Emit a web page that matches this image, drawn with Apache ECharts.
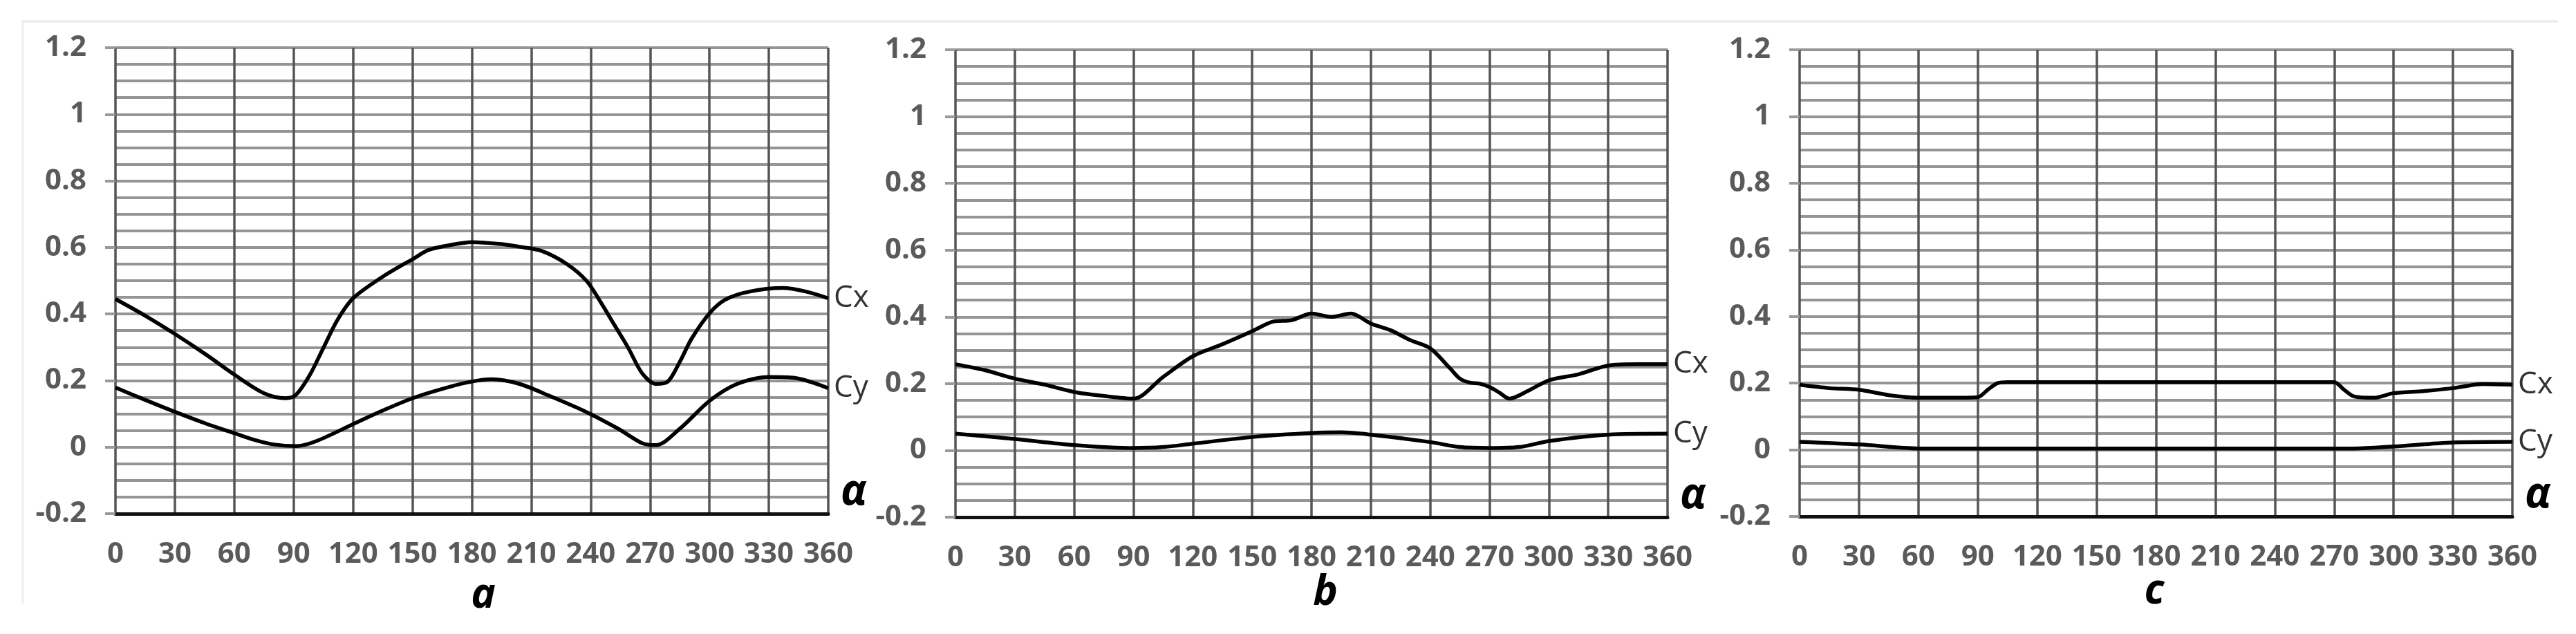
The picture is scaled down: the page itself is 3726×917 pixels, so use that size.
<!DOCTYPE html>
<html>
<head>
<meta charset="utf-8">
<script src="https://cdn.jsdelivr.net/npm/echarts@6/dist/echarts.min.js"></script>
<style>
  html, body { margin: 0; padding: 0; background: #fff; }
  #chart { width: 3726px; height: 917px; }
</style>
</head>
<body>
<div id="chart"></div>
<script>
// ---------------- data ----------------
const xTicks = [0, 30, 60, 90, 120, 150, 180, 210, 240, 270, 300, 330, 360];
const yTicks = [-0.2, 0, 0.2, 0.4, 0.6, 0.8, 1, 1.2];
const panelLetters = ['a', 'b', 'c'];
const seriesNames = ['Cx', 'Cy'];

// panel a
const aCxAngles = [0, 15, 30, 46, 60, 75, 86, 91, 98, 105, 112, 120, 135, 151, 158, 169, 180, 195, 204, 215, 228, 238, 245, 252, 259, 266, 273, 279, 285, 291, 300, 308, 320, 337, 349, 360];
const aCx       = [0.445, 0.395, 0.34, 0.277, 0.218, 0.162, 0.147, 0.156, 0.215, 0.298, 0.381, 0.447, 0.512, 0.568, 0.592, 0.607, 0.616, 0.61, 0.602, 0.59, 0.55, 0.499, 0.436, 0.367, 0.298, 0.222, 0.19, 0.197, 0.256, 0.326, 0.402, 0.443, 0.467, 0.478, 0.467, 0.447];
const aCyAngles = [0, 15, 30, 46, 60, 70, 80, 91, 101, 120, 135, 151, 168, 180, 190, 204, 220, 238, 254, 266, 273, 285, 300, 314, 330, 343, 360];
const aCy       = [0.179, 0.142, 0.106, 0.07, 0.042, 0.022, 0.008, 0.003, 0.017, 0.069, 0.11, 0.149, 0.18, 0.197, 0.204, 0.19, 0.152, 0.105, 0.055, 0.012, 0.006, 0.055, 0.139, 0.19, 0.211, 0.208, 0.177];

// panel b
const bCxAngles = [0, 15, 30, 45, 60, 75, 90, 105, 120, 135, 150, 160, 170, 180, 190, 200, 210, 220, 230, 240, 250, 255, 260, 265, 270, 275, 280, 290, 300, 315, 330, 345, 360];
const bCx       = [0.258, 0.24, 0.215, 0.197, 0.175, 0.163, 0.155, 0.22, 0.282, 0.318, 0.357, 0.385, 0.39, 0.41, 0.40, 0.41, 0.38, 0.36, 0.33, 0.306, 0.246, 0.215, 0.203, 0.20, 0.19, 0.173, 0.155, 0.18, 0.21, 0.228, 0.254, 0.258, 0.258];
const bCyAngles = [0, 30, 60, 90, 105, 120, 150, 180, 195, 210, 240, 255, 270, 285, 300, 330, 360];
const bCy       = [0.05, 0.034, 0.016, 0.007, 0.01, 0.02, 0.04, 0.052, 0.054, 0.047, 0.025, 0.01, 0.007, 0.01, 0.028, 0.047, 0.05];

// panel c
const cCxAngles = [0, 15, 30, 45, 60, 75, 90, 95, 100, 105, 150, 200, 250, 270, 275, 280, 290, 300, 315, 330, 345, 360];
const cCx       = [0.195, 0.185, 0.18, 0.164, 0.156, 0.156, 0.158, 0.18, 0.2, 0.203, 0.203, 0.203, 0.203, 0.203, 0.18, 0.16, 0.156, 0.17, 0.176, 0.185, 0.197, 0.195];
const cCyAngles = [0, 30, 60, 90, 150, 210, 280, 300, 330, 360];
const cCy       = [0.024, 0.016, 0.004, 0.004, 0.004, 0.004, 0.004, 0.01, 0.022, 0.024];

// ---------------- helpers ----------------
function pairs(xs, ys) { return xs.map((x, i) => [x, ys[i]]); }

const panels = [
  { cx: pairs(aCxAngles, aCx), cy: pairs(aCyAngles, aCy) },
  { cx: pairs(bCxAngles, bCx), cy: pairs(bCyAngles, bCy) },
  { cx: pairs(cCxAngles, cCx), cy: pairs(cCyAngles, cCy) }
];

const grids = [
  { left: 167,  top: 69, width: 1031, height: 674 },
  { left: 1382, top: 72, width: 1030, height: 676 },
  { left: 2603, top: 72, width: 1031, height: 675 }
];
const letterPos = [[699, 862], [1917, 858], [3116, 856]];

const labelFont = 'Open Sans';
const labelColor = '#5a5a5a';

const xAxes = grids.map((g, i) => ({
  type: 'value', gridIndex: i,
  min: xTicks[0], max: xTicks[xTicks.length - 1], interval: 30,
  name: 'α', nameLocation: 'end', nameGap: 18,
  nameTextStyle: {
    fontFamily: labelFont, fontSize: 62, fontStyle: 'italic', fontWeight: 'bold',
    color: '#000', verticalAlign: 'bottom', align: 'left'
  },
  axisLine: { show: true, onZero: false, lineStyle: { color: '#111', width: 5 } },
  axisTick: { show: false },
  axisLabel: { margin: 38, fontFamily: labelFont, fontWeight: 'bold', fontSize: 42, color: labelColor,
               showMinLabel: true, showMaxLabel: true, hideOverlap: false },
  splitLine: { show: true, lineStyle: { color: '#555555', width: 3.5 } }
}));

const yAxes = grids.map((g, i) => ({
  type: 'value', gridIndex: i,
  min: yTicks[0], max: yTicks[yTicks.length - 1], interval: 0.2,
  axisLine: { show: false },
  axisTick: { show: true, length: 15, lineStyle: { color: '#9a9a9a', width: 4 } },
  minorTick: { show: false, splitNumber: 4 },
  axisLabel: { margin: 42, fontFamily: labelFont, fontWeight: 'bold', fontSize: 42, color: labelColor,
               formatter: v => String(Math.round(v * 10) / 10) },
  splitLine: { show: true, lineStyle: { color: '#959595', width: 4 } },
  minorSplitLine: { show: true, lineStyle: { color: '#959595', width: 4 } }
}));

const series = [];
panels.forEach((p, i) => {
  [p.cx, p.cy].forEach((d, k) => {
    series.push({
      type: 'line', name: seriesNames[k], xAxisIndex: i, yAxisIndex: i,
      data: d, smooth: 0.3, showSymbol: false, symbol: 'none',
      lineStyle: { color: '#000', width: 5.5 },
      endLabel: { show: true, formatter: '{a}', distance: 8,
                  fontFamily: labelFont, fontSize: 44, color: '#333' },
      emphasis: { disabled: true },
      z: 5
    });
  });
});

const graphic = [
  { type: 'line', shape: { x1: 32, y1: 31, x2: 3700, y2: 31 }, style: { stroke: '#e9e9e9', lineWidth: 3 }, silent: true },
  { type: 'line', shape: { x1: 33, y1: 31, x2: 33, y2: 873 }, style: { stroke: '#eeeeee', lineWidth: 3 }, silent: true }
].concat(panelLetters.map((t, i) => ({
  type: 'text', x: letterPos[i][0], y: letterPos[i][1], silent: true,
  style: { text: t, fontFamily: labelFont, fontSize: 60, fontStyle: 'italic', fontWeight: 'bold',
           fill: '#000', align: 'center', verticalAlign: 'middle' }
})));

const chart = echarts.init(document.getElementById('chart'), null, { renderer: 'canvas' });
chart.setOption({
  animation: false,
  backgroundColor: '#fff',
  grid: grids.map(g => Object.assign({ containLabel: false }, g)),
  xAxis: xAxes,
  yAxis: yAxes,
  series: series,
  graphic: graphic
});
</script>
</body>
</html>
